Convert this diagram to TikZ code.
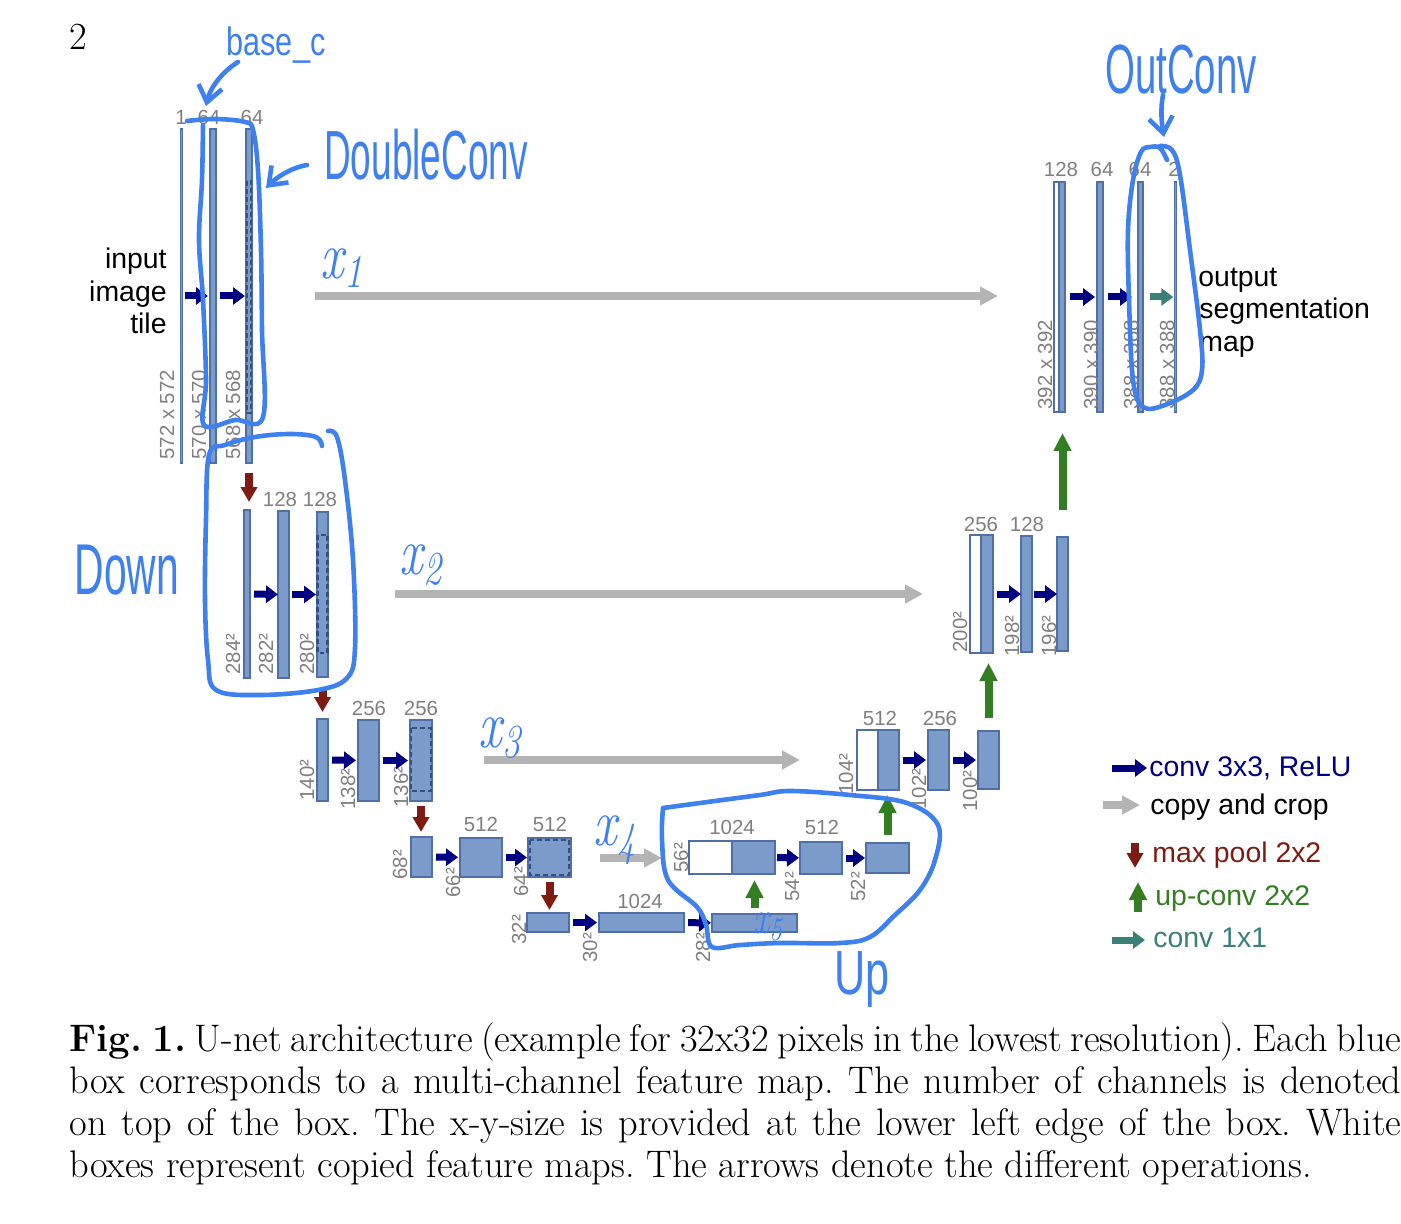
\documentclass[tikz,border=0pt]{standalone}
\usepackage{fontspec}
\newfontfamily\lsans{Liberation Sans}
\usetikzlibrary{arrows.meta,fit}
\definecolor{boxfill}{HTML}{7B9CCB}
\definecolor{boxline}{HTML}{4F6FA6}
\definecolor{dashc}{HTML}{34507E}
\definecolor{convc}{HTML}{000080}
\definecolor{copyc}{HTML}{B4B4B4}
\definecolor{poolc}{HTML}{7E1B12}
\definecolor{upcol}{HTML}{337D22}
\definecolor{onec}{HTML}{3A7F78}
\definecolor{labc}{HTML}{7F7F7F}
\definecolor{handc}{HTML}{3D80EE}
\newcommand\fm[6]{\node[#1,fit={(#3,#4)(#5,#6)}] (#2) {};}
\begin{document}
\begin{tikzpicture}[x=0.5pt,y=-0.5pt,
 fmap/.style={draw=boxline,fill=boxfill,line width=0.6pt,inner sep=0pt,outer sep=0pt},
 wmap/.style={fmap,fill=white},
 dsh/.style={draw=dashc,line width=1.2pt,dash pattern=on 2.4pt off 1.6pt},
 chan/.style={font=\lsans\fontsize{10.2}{12}\selectfont,text=labc,inner sep=0pt,anchor=south},
 sz/.style={font=\lsans\fontsize{10.2}{12}\selectfont,text=labc,inner sep=0pt,rotate=90,anchor=base west},
 txt/.style={font=\lsans\fontsize{14.2}{16}\selectfont,inner sep=0pt},
 conv/.style={draw=convc,line width=3.5pt,-{Triangle[length=6pt,width=8.5pt]},shorten <=2pt,shorten >=0.5pt},
 onebyone/.style={conv,draw=onec},
 copyarr/.style={draw=copyc,line width=4pt,-{Triangle[length=9pt,width=9pt]}},
 pool/.style={draw=poolc,line width=4pt,-{Triangle[length=7.5pt,width=8pt]}},
 upconv/.style={draw=upcol,line width=4pt,-{Triangle[length=9pt,width=8.5pt]}},
 hand/.style={draw=handc,line width=2.3pt,line cap=round,line join=round},
 handarr/.style={hand,-{Straight Barb[length=8pt,width=12pt]}},
 htxt/.style={text=handc,inner sep=0pt,font=\lsans\fontsize{24}{24}\selectfont},
 hx/.style={text=handc,inner sep=0pt,font=\fontsize{26}{26}\selectfont\itshape},
]
\useasboundingbox (0,0) rectangle (1401,1224);

% page number
\node[anchor=base west,inner sep=0pt,font=\fontsize{19.2}{21}\selectfont] (pg) at (69,50) {2};

% ---------- level 1 ----------
\fm{fmap}{b1a}{180.5}{129}{182}{463}
\fm{fmap}{b1b}{210}{129}{216}{463}
\fm{fmap}{b1c}{246}{129}{252}{463}
\draw[dsh] (247,181) rectangle (251,413);
\node[chan] (c1a) at (181,125) {1};
\node[chan] (c1b) at (209,125) {64};
\node[chan] (c1c) at (252,125) {64};
\node[sz] (s1a) at (174,460) {572 x 572};
\node[sz] (s1b) at (206,460) {570 x 570};
\node[sz] (s1c) at (240,460) {568 x 568};
\draw[conv,shorten <=1.5pt,shorten >=1pt] (b1a) -- (b1b);
\draw[conv] (b1b) -- (b1c);
\node[txt,anchor=base east] (in1) at (167,269) {input};
\node[txt,anchor=base east] (in2) at (167,302) {image};
\node[txt,anchor=base east] (in3) at (167,334) {tile};

% ---------- level 2 ----------
\fm{fmap}{b2a}{244}{510}{250}{678}
\fm{fmap}{b2b}{278}{511}{289}{678}
\fm{fmap}{b2c}{317}{512}{328}{677}
\draw[dsh] (317.5,535) rectangle (327.5,653);
\node[chan] (c2b) at (280,507) {128};
\node[chan] (c2c) at (320,507) {128};
\node[sz] (s2a) at (240,675) {284²};
\node[sz] (s2b) at (273,675) {282²};
\node[sz] (s2c) at (314,675) {280²};
\draw[conv,shorten >=0pt] (b2a) -- (b2b);
\draw[conv,shorten <=1.5pt] (b2b) -- (b2c);

% ---------- level 3 ----------
\fm{fmap}{b3a}{317}{719}{328}{801}
\fm{fmap}{b3b}{358}{720}{379}{801}
\fm{fmap}{b3c}{410}{720}{432}{801}
\draw[dsh] (411,728) rectangle (431,791);
\node[chan] (c3b) at (369,716) {256};
\node[chan] (c3c) at (421,716) {256};
\node[sz] (s3a) at (314,801) {140²};
\node[sz] (s3b) at (355,810) {138²};
\node[sz] (s3c) at (408,808) {136²};
\draw[conv,shorten >=1pt] (b3a) -- (b3b);
\draw[conv,shorten >=1pt] (b3b) -- (b3c);

% ---------- level 4 ----------
\fm{fmap}{b4a}{411}{837}{432}{877}
\fm{fmap}{b4b}{460}{838}{502}{877}
\fm{fmap}{b4c}{528}{838}{571}{877}
\draw[dsh] (530,840) rectangle (569,875);
\node[chan] (c4b) at (481,832) {512};
\node[chan] (c4c) at (550,832) {512};
\node[sz] (s4a) at (407,880) {68²};
\node[sz] (s4b) at (460,898) {66²};
\node[sz] (s4c) at (528,897) {64²};
\draw[conv,shorten >=1pt] (b4a) -- (b4b);
\draw[conv] (b4b) -- (b4c);

% ---------- level 5 ----------
\fm{fmap}{b5a}{527}{913}{569}{932}
\fm{fmap}{b5b}{599}{913}{684}{932}
\fm{fmap}{b5c}{712}{914}{797}{932}
\node[chan] (c5b) at (640,909) {1024};
\node[sz] (s5a) at (526,945) {32²};
\node[sz] (s5b) at (597,963) {30²};
\node[sz] (s5c) at (710,963) {28²};
\draw[conv,shorten >=1pt] (b5a) -- (b5b);
\draw[conv] (b5b) -- (b5c);

% ---------- up 4 ----------
\fm{wmap}{u4w}{689}{841}{732}{874}
\fm{fmap}{u4a}{732}{841}{775}{874}
\fm{fmap}{u4b}{800}{842}{842}{874}
\fm{fmap}{u4c}{866}{843}{909}{873}
\node[chan] (cu4a) at (732,835) {1024};
\node[chan] (cu4b) at (822,835) {512};
\node[sz] (su4a) at (688,873) {56²};
\node[sz] (su4b) at (799,902) {54²};
\node[sz] (su4c) at (865,902) {52²};
\draw[conv,shorten <=1pt] (u4a) -- (u4b);
\draw[conv] (u4b) -- (u4c);

% ---------- up 3 ----------
\fm{wmap}{u3w}{857}{730}{878}{790}
\fm{fmap}{u3a}{878}{730}{899}{790}
\fm{fmap}{u3b}{928}{730}{949}{790}
\fm{fmap}{u3c}{978}{731}{999}{789}
\node[chan] (cu3a) at (880,726) {512};
\node[chan] (cu3b) at (940,726) {256};
\node[sz] (su3a) at (853,795) {104²};
\node[sz] (su3b) at (926,810) {102²};
\node[sz] (su3c) at (977,812) {100²};
\draw[conv,shorten >=1pt] (u3a) -- (u3b);
\draw[conv,shorten >=1pt] (u3b) -- (u3c);

% ---------- up 2 ----------
\fm{wmap}{u2w}{970}{535}{981}{653}
\fm{fmap}{u2a}{981}{535}{993}{653}
\fm{fmap}{u2b}{1021}{536}{1032}{652}
\fm{fmap}{u2c}{1057}{537}{1068}{651}
\node[chan] (cu2a) at (981,532) {256};
\node[chan] (cu2b) at (1027,532) {128};
\node[sz] (su2a) at (967,653) {200²};
\node[sz] (su2b) at (1019,657) {198²};
\node[sz] (su2c) at (1056,657) {196²};
\draw[conv,shorten >=0pt] (u2a) -- (u2b);
\draw[conv,shorten <=1pt,shorten >=0pt] (u2b) -- (u2c);

% ---------- up 1 ----------
\fm{wmap}{u1w}{1054}{182}{1059}{412}
\fm{fmap}{u1a}{1059}{182}{1065}{412}
\fm{fmap}{u1b}{1097}{182}{1103}{412}
\fm{fmap}{u1c}{1138}{182}{1143}{412}
\fm{fmap}{u1d}{1174.5}{182}{1176}{412}
\node[chan] (cu1a) at (1061,177) {128};
\node[chan] (cu1b) at (1102,177) {64};
\node[chan] (cu1c) at (1140,177) {64};
\node[chan] (cu1d) at (1174,177) {2};
\node[sz] (su1a) at (1052,410) {392 x 392};
\node[sz] (su1b) at (1098,410) {390 x 390};
\node[sz] (su1c) at (1138,410) {388 x 388};
\node[sz] (su1d) at (1174,410) {388 x 388};
\draw[conv,shorten <=2.5pt,shorten >=1pt] (u1a) -- (u1b);
\draw[conv,shorten <=2.5pt,shorten >=3pt] (u1b) -- (u1c);
\draw[onebyone,shorten <=3.5pt,shorten >=0.5pt] (u1c) -- (u1d);
\node[txt,anchor=base west] (out1) at (1198,287) {output};
\node[txt,anchor=base west] (out2) at (1199,319) {segmentation};
\node[txt,anchor=base west] (out3) at (1199,352) {map};

% ---------- max pool ----------
\draw[pool,shorten <=5pt,shorten >=4pt] (b1c.south) -- (b1c.south |- b2a.north);
\draw[pool,shorten <=5.5pt,shorten >=3.5pt] (b2c.south) -- (b2c.south |- b3a.north);
\draw[pool,shorten <=2.5pt,shorten >=2.5pt] (b3c.south) -- (b3c.south |- b4a.north);
\draw[pool,shorten <=2.5pt,shorten >=1.5pt] (b4c.south) -- (b4c.south |- b5a.north);

% ---------- up-conv ----------
\draw[upconv,shorten <=3pt,shorten >=3pt] (b5c.north) -- (b5c.north |- u4a.south);
\draw[upconv,shorten <=4pt,shorten >=2.5pt] (u4c.north) -- (u4c.north |- u3a.south);
\draw[upconv,shorten <=6.5pt,shorten >=5pt] (u3c.north) -- (u3c.north |- u2a.south);
\draw[upconv,shorten <=13.5pt,shorten >=10.5pt] (u2c.north) -- (u2c.north |- u1a.south);

% ---------- copy and crop ----------
\coordinate (k1s) at (315,296); \coordinate (k1e) at (998,296);
\coordinate (k2s) at (395,594); \coordinate (k2e) at (923,594);
\coordinate (k3s) at (484,760); \coordinate (k3e) at (800,760);
\coordinate (k4s) at (600,858); \coordinate (k4e) at (662,858);
\draw[copyarr] (k1s) -- (k1e);
\draw[copyarr] (k2s) -- (k2e);
\draw[copyarr] (k3s) -- (k3e);
\draw[copyarr] (k4s) -- (k4e);

% ---------- legend ----------
\node[txt,anchor=base west,text=convc] (lg1) at (1149,776) {conv 3x3, ReLU};
\node[txt,anchor=base west] (lg2) at (1150,814) {copy and crop};
\node[txt,anchor=base west,text=poolc] (lg3) at (1152,862) {max pool 2x2};
\node[txt,anchor=base west,text=upcol] (lg4) at (1155,905) {up-conv 2x2};
\node[txt,anchor=base west,text=onec] (lg5) at (1153,947) {conv 1x1};
\coordinate (lga1) at (1112,768); \coordinate (lga2) at (1147,768);
\coordinate (lgb1) at (1103,805); \coordinate (lgb2) at (1140,805);
\coordinate (lgc1) at (1135,843); \coordinate (lgc2) at (1135,868);
\coordinate (lgd1) at (1138,912); \coordinate (lgd2) at (1138,882);
\coordinate (lge1) at (1112,940); \coordinate (lge2) at (1145,940);
\draw[conv,shorten <=0pt,shorten >=0pt] (lga1) -- (lga2);
\draw[copyarr] (lgb1) -- (lgb2);
\draw[pool] (lgc1) -- (lgc2);
\draw[upconv] (lgd1) -- (lgd2);
\draw[onebyone,shorten <=0pt,shorten >=0pt] (lge1) -- (lge2);

% ---------- caption ----------
\node[anchor=north west,text width=666pt,align=justify,inner sep=0pt,
      font=\fontsize{19.2}{21}\selectfont\frenchspacing] (cap) at (69,1022)
 {\textbf{Fig.\ 1.} U-net architecture (example for 32x32 pixels in the lowest resolution). Each blue\linebreak
  box corresponds to a multi-channel feature map. The number of channels is denoted\linebreak
  on top of the box. The x-y-size is provided at the lower left edge of the box. White\linebreak
  boxes represent copied feature maps. The arrows denote the different operations.};

% ---------- hand annotations ----------
\node[htxt] (hbase) at (276,45) {\scalebox{0.85}[1.1]{\fontsize{18}{18}\selectfont base\_c}};
\coordinate (hb1) at (238,62); \coordinate (hb2) at (206,106);
\draw[handarr] (hb1) .. controls (222,72) and (210,88) .. (hb2);
\draw[hand] plot[smooth,tension=0.6] coordinates {(187,121) (215,119) (245,122) (253,130) (258,170) (261,250) (262,330) (263,417) (235,420) (204,425) (206,380) (203,300) (199,240) (202,180) (203,125)};
\node[htxt] (hdc) at (426,155) {\scalebox{0.77}[1.45]{DoubleConv}};
\coordinate (hd1) at (307,165); \coordinate (hd2) at (266,188);
\draw[handarr] (hd1) .. controls (290,168) and (276,178) .. (hd2);

\draw[hand] plot[smooth,tension=0.6] coordinates {(322,446) (316,437) (290,434) (255,437) (225,445) (209,455) (206,520) (205,600) (208,660) (216,690) (260,695) (318,690) (347,678) (355,648) (353,560) (345,480) (337,437) (328,431)};
\node[htxt] (hdown) at (127,570) {\scalebox{0.85}[1.5]{Down}};

\draw[hand] plot[smooth,tension=0.6] coordinates {(663,808) (700,803) (760,795) (790,791) (850,795) (907,803) (938,825) (935,860) (920,890) (895,915) (870,937) (840,943) (780,943) (740,945) (712,947) (706,925) (697,907) (668,880) (662,840) (663,808)};
\node[htxt] (hup) at (862,980) {\scalebox{0.9}[1.3]{Up}};

\draw[hand] plot[smooth,tension=0.6] coordinates {(1167,160) (1160,148) (1150,147) (1141,152) (1133,180) (1128,230) (1129,300) (1133,380) (1143,407) (1165,405) (1193,390) (1202,370) (1200,330) (1190,250) (1180,175) (1172,150) (1160,146)};
\node[htxt] (hout) at (1181,70) {\scalebox{0.8}[1.45]{OutConv}};
\coordinate (ho1) at (1163,95); \coordinate (ho2) at (1164,137);
\draw[handarr] (ho1) .. controls (1160,110) and (1162,125) .. (ho2);

\node[hx] (hx1) at (342,268) {\scalebox{1}[1.3]{x\textsubscript{1}}};
\node[hx] (hx2) at (421,565) {\scalebox{1}[1.3]{x\textsubscript{2}}};
\node[hx] (hx3) at (500,738) {\scalebox{1}[1.3]{x\textsubscript{3}}};
\node[hx] (hx4) at (615,840) {\scalebox{1}[1.3]{x\textsubscript{4}}};
\node[hx,font=\fontsize{18}{18}\selectfont\itshape] (hx5) at (768,927) {\scalebox{1}[1.3]{x\textsubscript{5}}};
\end{tikzpicture}
\end{document}
